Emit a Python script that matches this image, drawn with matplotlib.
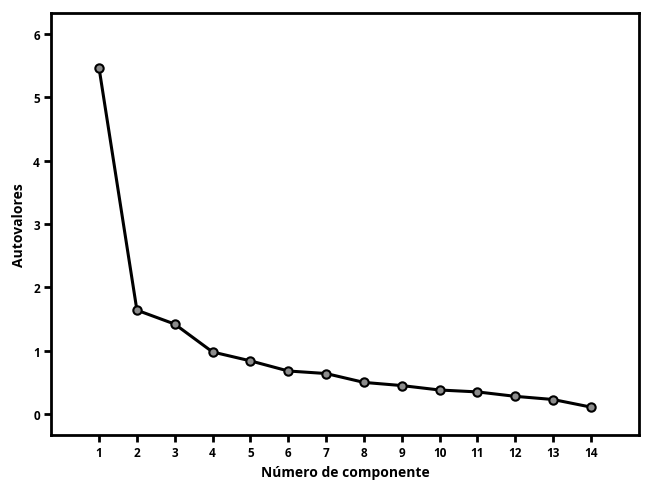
import matplotlib
matplotlib.use('Agg')
import matplotlib.pyplot as plt

# scree plot values
componentes = list(range(1, 15))
autovalores = [5.46, 1.64, 1.42, 0.98, 0.84, 0.68, 0.64, 0.50, 0.45, 0.38, 0.35, 0.28, 0.23, 0.11]
yticks = [0, 1, 2, 3, 4, 5, 6]

plt.rcParams['font.family'] = ['Open Sans', 'DejaVu Sans']
plt.rcParams['font.weight'] = 'bold'

fig = plt.figure(figsize=(6.49, 4.89), dpi=100)
ax = fig.add_axes([0.0786, 0.1084, 0.906, 0.863])

ax.plot(componentes, autovalores, color='black', lw=2.2, marker='o', ms=6,
        mfc='#8c8c8c', mec='black', mew=1.5, zorder=3)

ax.set_xlim(-0.27, 15.27)
ax.set_ylim(-0.33, 6.33)
ax.set_xticks(componentes)
ax.set_yticks(yticks)
ax.tick_params(direction='out', length=5, width=2, labelsize=8.5, pad=3)
for lab in ax.get_xticklabels() + ax.get_yticklabels():
    lab.set_fontweight('bold')
for s in ax.spines.values():
    s.set_linewidth(2)

ax.set_xlabel('Número de componente', fontsize=10, fontweight='bold', labelpad=4)
ax.set_ylabel('Autovalores', fontsize=10, fontweight='bold', labelpad=5)

fig.savefig('out.png', dpi=100)
